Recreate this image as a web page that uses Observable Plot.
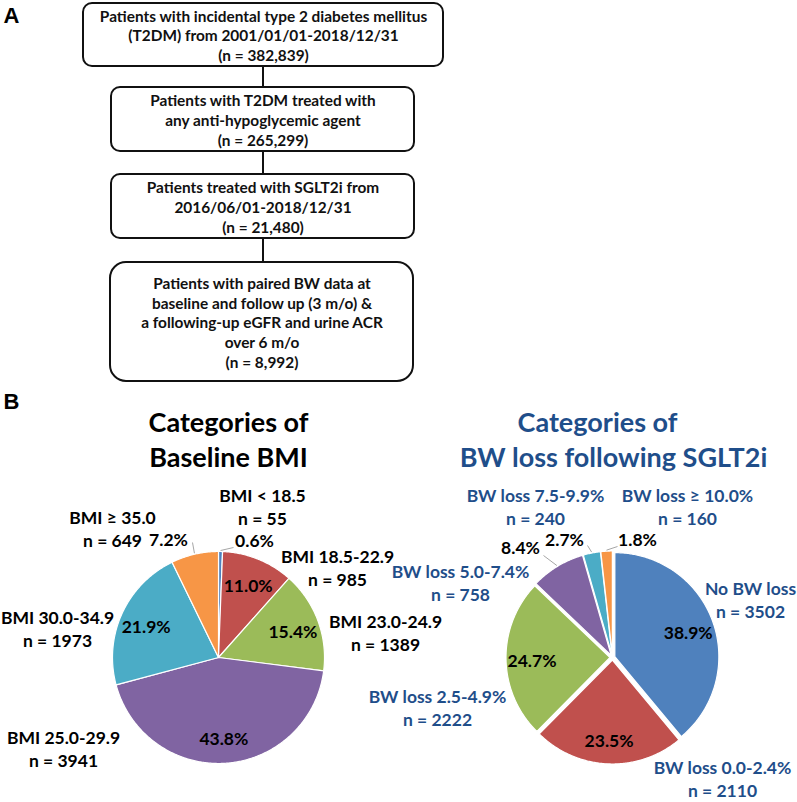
<!DOCTYPE html>
<html><head><meta charset="utf-8">
<script src="https://cdn.jsdelivr.net/npm/d3@7"></script>
<script src="https://cdn.jsdelivr.net/npm/@observablehq/plot@0.6"></script>
<style>body{margin:0;background:#fff} #chart svg{display:block}</style>
</head><body><div id="chart"></div>
<script>
// ---------------- data ----------------
const flowTexts = [
  ["Patients with incidental type 2 diabetes mellitus", "(T2DM) from 2001/01/01-2018/12/31"],
  ["Patients with T2DM treated with", "any anti-hypoglycemic agent"],
  ["Patients treated with SGLT2i from", "2016/06/01-2018/12/31"],
  ["Patients with paired BW data at", "baseline and follow up (3 m/o) &", "a following-up eGFR and urine ACR", "over 6 m/o"]
];
const flowN = [382839, 265299, 21480, 8992];

const panelLetters = ["A", "B"];
const bmiTitle = ["Categories of", "Baseline BMI"];
const bwTitle = ["Categories of", "BW loss following SGLT2i"];

const bmiCategories = ["BMI < 18.5", "BMI 18.5-22.9", "BMI 23.0-24.9", "BMI 25.0-29.9", "BMI 30.0-34.9", "BMI \u2265 35.0"];
const bmiCounts = [55, 985, 1389, 3941, 1973, 649];
const bmiPercents = ["0.6%", "11.0%", "15.4%", "43.8%", "21.9%", "7.2%"];

const bwCategories = ["No BW loss", "BW loss 0.0-2.4%", "BW loss 2.5-4.9%", "BW loss 5.0-7.4%", "BW loss 7.5-9.9%", "BW loss \u2265 10.0%"];
const bwCounts = [3502, 2110, 2222, 758, 240, 160];
const bwPercents = ["38.9%", "23.5%", "24.7%", "8.4%", "2.7%", "1.8%"];

const sliceColors = ["#4F81BD", "#C0504D", "#9BBB59", "#8064A2", "#4BACC6", "#F79646"];

// ---------------- layout ----------------
const W = 797, H = 802;
const FONT = "Lato, 'Open Sans', 'DejaVu Sans', sans-serif";
const BLUE_TEXT = "#1F4E8A";
const BOX_FS = 15.4, LABEL_FS = 17.5, TITLE_FS = 27;
const boxLayout = [
  {x1: 83, x2: 443, y1: 3, y2: 66, r: 9},
  {x1: 111, x2: 414, y1: 87, y2: 151, r: 9},
  {x1: 111, x2: 414, y1: 174, y2: 238, r: 9},
  {x1: 110, x2: 413, y1: 262, y2: 381, r: 16}
];
const letterPos = [{x: 3, y: 22}, {x: 3, y: 408}];
const pieLayout = [
  {cx: 218, cy: 657, r: 106, explode: 0, color: "#000",
   outside: [0, 5],
   labelOff: [[44, -151], [119, -90], [167, -25], [-155, 91], [-161, -29], [-106, -129]],
   pctOff: {0: [36, -116], 5: [-50, -117]},
   leaderOff: {0: [15, -110], 5: [-26, -115]},
   titleX: [228, 228], titleY: [423, 458]},
  {cx: 612, cy: 657, r: 104, explode: 2.5, color: BLUE_TEXT,
   outside: [3, 4, 5],
   labelOff: [[138, -58], [110, 121], [-175, 50], [-152, -75], [-77, -151], [75, -151]],
   pctOff: {3: [-92, -109], 4: [-48, -117], 5: [25, -117]},
   leaderOff: {3: [-69, -102], 4: [-25, -112], 5: [5, -111]},
   titleX: [597, 613], titleY: [423, 458]}
];

// ---------------- derived geometry ----------------
const fmt = d3.format(",");
const boxes = boxLayout.map((b, i) => ({...b, text: [...flowTexts[i], `(n = ${fmt(flowN[i])})`].join("\n"),
  cx: (b.x1 + b.x2) / 2, cy: (b.y1 + b.y2) / 2}));
const connectors = boxes.slice(1).map((b, i) => ({x: 262.5, y1: boxes[i].y2, y2: b.y1}));

const pieSets = [
  {cats: bmiCategories, counts: bmiCounts, pct: bmiPercents, title: bmiTitle, L: pieLayout[0]},
  {cats: bwCategories, counts: bwCounts, pct: bwPercents, title: bwTitle, L: pieLayout[1]}
];

const slicePts = [], insideLabels = [], outsidePct = [], catLabels = [], leaders = [], titles = [];
pieSets.forEach((P, pi) => {
  const L = P.L;
  const arcs = d3.pie().sort(null).value(d => d)(P.counts);
  arcs.forEach((a, i) => {
    const mid = (a.startAngle + a.endAngle) / 2;
    const ox = L.cx + L.explode * Math.sin(mid), oy = L.cy - L.explode * Math.cos(mid);
    const n = Math.max(2, Math.ceil((a.endAngle - a.startAngle) / 0.01));
    const key = pi + "-" + i;
    slicePts.push({x: ox, y: oy, cat: P.cats[i], key});
    for (let k = 0; k <= n; k++) {
      const t = a.startAngle + (a.endAngle - a.startAngle) * k / n;
      slicePts.push({x: ox + L.r * Math.sin(t), y: oy - L.r * Math.cos(t), cat: P.cats[i], key});
    }
    if (L.outside.includes(i)) {
      const po = L.pctOff[i];
      outsidePct.push({x: L.cx + po[0], y: L.cy + po[1], text: P.pct[i]});
      const lo = L.leaderOff[i];
      leaders.push({x1: L.cx + lo[0], y1: L.cy + lo[1],
        x2: ox + (L.r + 1) * Math.sin(mid), y2: oy - (L.r + 1) * Math.cos(mid)});
    } else {
      const rr = L.r * 0.75;
      insideLabels.push({x: ox + rr * Math.sin(mid), y: oy - rr * Math.cos(mid) + 3, text: P.pct[i]});
    }
    const off = L.labelOff[i];
    catLabels.push({x: L.cx + off[0], y: L.cy + off[1], text: `${P.cats[i]}\nn = ${P.counts[i]}`, color: L.color});
  });
  P.title.forEach((t, j) => titles.push({x: L.titleX[j], y: L.titleY[j], text: t, color: pi === 0 ? "#000" : BLUE_TEXT}));
});

const chart = Plot.plot({
  width: W, height: H, margin: 0,
  x: {domain: [0, W], range: [0, W], axis: null},
  y: {domain: [0, H], range: [0, H], axis: null},
  color: {domain: [...bmiCategories, ...bwCategories], range: [...sliceColors, ...sliceColors]},
  style: {fontFamily: FONT, background: "white"},
  marks: [
    // flowchart
    Plot.ruleX(connectors, {x: "x", y1: "y1", y2: "y2", stroke: "#111", strokeWidth: 2}),
    Plot.rect(boxes.filter(b => b.r < 12), {x1: "x1", x2: "x2", y1: "y1", y2: "y2", rx: 9, fill: "white", stroke: "#111", strokeWidth: 2}),
    Plot.rect(boxes.filter(b => b.r >= 12), {x1: "x1", x2: "x2", y1: "y1", y2: "y2", rx: 16, fill: "white", stroke: "#111", strokeWidth: 2}),
    Plot.text(boxes, {x: "cx", y: "cy", text: "text", fontSize: BOX_FS, fontWeight: "bold", lineHeight: 1.29, fill: "#111", fontFamily: FONT}),
    Plot.text(panelLetters, {x: (d, i) => letterPos[i].x, y: (d, i) => letterPos[i].y, text: d => d, textAnchor: "start", lineAnchor: "bottom", fontSize: 22, fontWeight: "bold", fill: "#000", fontFamily: "'Liberation Sans', Arial, sans-serif"}),
    // titles
    Plot.text(titles, {x: "x", y: "y", text: "text", fill: d => d.color, fontSize: TITLE_FS, fontWeight: "bold", fontFamily: FONT}),
    // pies
    Plot.line(slicePts, {x: "x", y: "y", z: "key", fill: "cat", stroke: "white", strokeWidth: 1.2, curve: "linear-closed"}),
    Plot.link(leaders, {x1: "x1", y1: "y1", x2: "x2", y2: "y2", stroke: "#A6A6A6", strokeWidth: 1}),
    Plot.text(insideLabels, {x: "x", y: "y", text: "text", fill: "#000", fontSize: LABEL_FS, fontWeight: "bold", fontFamily: FONT}),
    Plot.text(outsidePct, {x: "x", y: "y", text: "text", fill: "#000", fontSize: LABEL_FS, fontWeight: "bold", fontFamily: FONT}),
    Plot.text(catLabels, {x: "x", y: "y", text: "text", fill: d => d.color, fontSize: LABEL_FS, fontWeight: "bold", lineHeight: 1.31, fontFamily: FONT})
  ]
});
document.getElementById("chart").append(chart);
</script>
</body></html>
